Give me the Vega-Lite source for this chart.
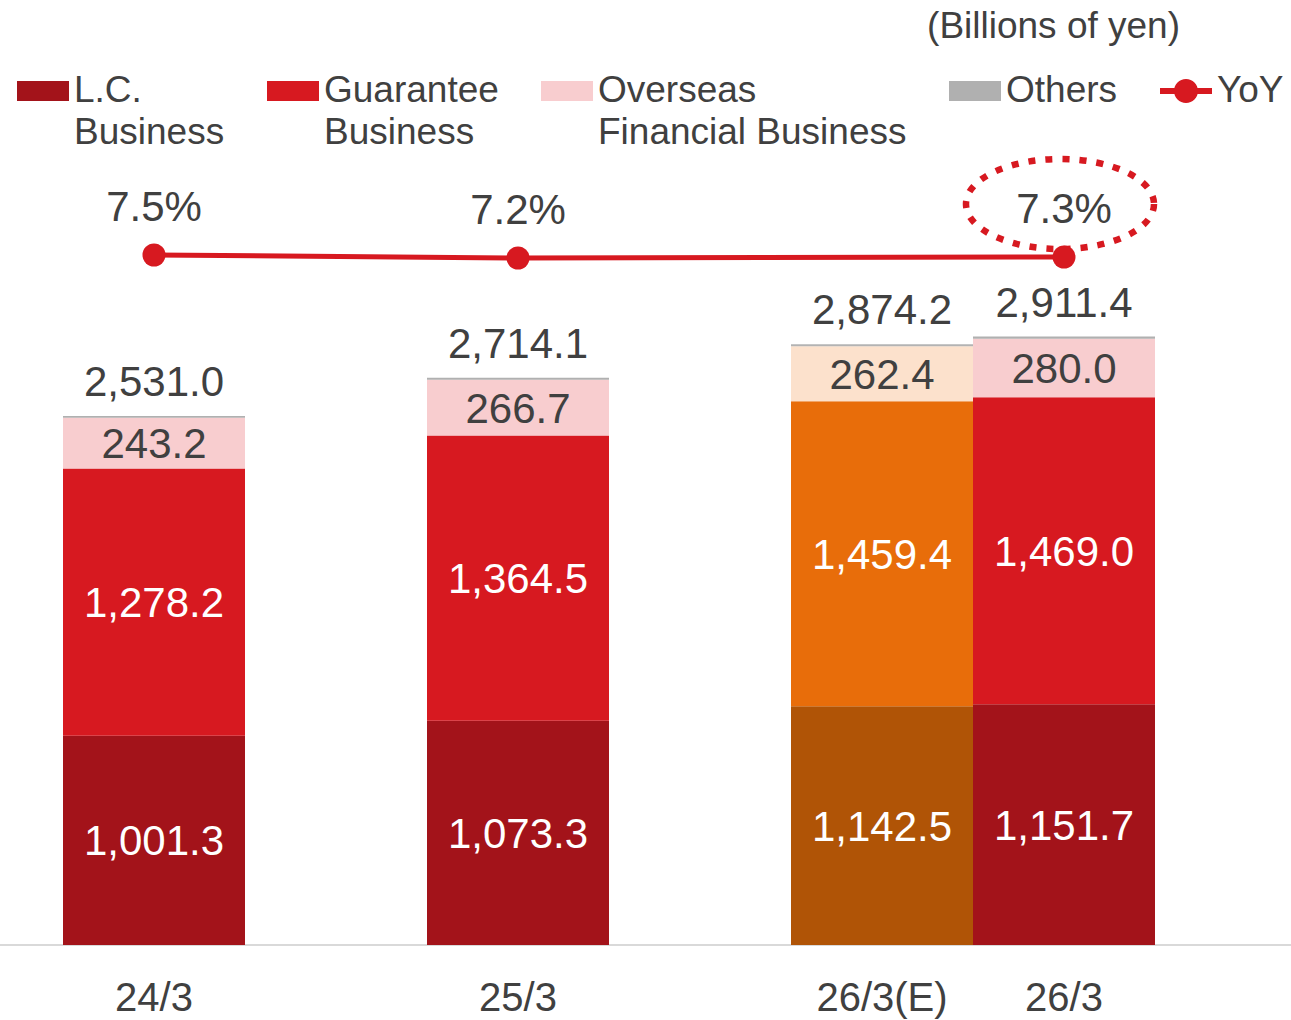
{
  "$schema": "https://vega.github.io/schema/vega-lite/v6.json",
  "width": 1291,
  "height": 785,
  "autosize": {"type": "none"},
  "padding": {"left": 0, "top": 160, "right": 0, "bottom": 75},
  "background": "white",
  "config": {"view": {"stroke": null}, "font": "Liberation Sans"},
  "title": {
    "text": "(Billions of yen)",
    "anchor": "end",
    "frame": "group",
    "orient": "top",
    "baseline": "alphabetic",
    "offset": 0,
    "dx": -111,
    "dy": 10,
    "fontSize": 37,
    "font": "Liberation Sans",
    "fontWeight": "normal",
    "color": "#404040"
  },
  "datasets": {
    "segments": [
      {"period": "24/3", "segment": "L.C. Business", "value": 1001.3},
      {"period": "24/3", "segment": "Guarantee Business", "value": 1278.2},
      {"period": "24/3", "segment": "Overseas Financial Business", "value": 243.2},
      {"period": "24/3", "segment": "Others", "value": 8.3},
      {"period": "25/3", "segment": "L.C. Business", "value": 1073.3},
      {"period": "25/3", "segment": "Guarantee Business", "value": 1364.5},
      {"period": "25/3", "segment": "Overseas Financial Business", "value": 266.7},
      {"period": "25/3", "segment": "Others", "value": 9.6},
      {"period": "26/3(E)", "segment": "L.C. Business", "value": 1142.5},
      {"period": "26/3(E)", "segment": "Guarantee Business", "value": 1459.4},
      {"period": "26/3(E)", "segment": "Overseas Financial Business", "value": 262.4},
      {"period": "26/3(E)", "segment": "Others", "value": 9.9},
      {"period": "26/3", "segment": "L.C. Business", "value": 1151.7},
      {"period": "26/3", "segment": "Guarantee Business", "value": 1469.0},
      {"period": "26/3", "segment": "Overseas Financial Business", "value": 280.0},
      {"period": "26/3", "segment": "Others", "value": 10.7}
    ],
    "yoy": [
      {"period": "24/3", "yoy": 0.075},
      {"period": "25/3", "yoy": 0.072},
      {"period": "26/3", "yoy": 0.073}
    ]
  },
  "encoding": {
    "x": {
      "field": "period",
      "type": "ordinal",
      "title": null,
      "scale": {
        "domain": ["24/3", "g1", "25/3", "g2", "26/3(E)", "26/3"],
        "range": [63, 1155],
        "paddingInner": 0,
        "paddingOuter": 0
      },
      "axis": {
        "domain": false,
        "ticks": false,
        "tickSize": 0,
        "grid": false,
        "labelAngle": 0,
        "labelFont": "Liberation Sans",
        "labelFontSize": 40,
        "labelColor": "#404040",
        "labelBaseline": "alphabetic",
        "labelPadding": 65,
        "labelExpr": "datum.value === 'g1' || datum.value === 'g2' ? '' : datum.label"
      }
    }
  },
  "layer": [
    {
      "data": {"name": "segments"},
      "transform": [
        {"calculate": "datum.period === '26/3(E)' ? datum.segment + ' (E)' : datum.segment", "as": "key"},
        {"calculate": "indexof(['L.C. Business','Guarantee Business','Overseas Financial Business','Others'], datum.segment)", "as": "ord"},
        {"stack": "value", "groupby": ["period"], "sort": [{"field": "ord", "order": "ascending"}], "as": ["v0", "v1"]},
        {"calculate": "(datum.v0 + datum.v1) / 2", "as": "mid"}
      ],
      "layer": [
        {
          "data": {"values": [{}]},
          "mark": {"type": "rule", "color": "#D9D9D9", "strokeWidth": 2},
          "encoding": {
            "x": null,
            "y": {"datum": 0, "type": "quantitative", "scale": {"domain": [0, 3756], "nice": false, "zero": true}, "axis": null}
          }
        },
        {
          "mark": {"type": "bar"},
          "encoding": {
            "y": {"field": "v0", "type": "quantitative", "scale": {"domain": [0, 3756], "nice": false}, "axis": null},
            "y2": {"field": "v1"},
            "color": {
              "field": "key",
              "type": "nominal",
              "scale": {
                "domain": ["L.C. Business", "Guarantee Business", "Overseas Financial Business", "Others", "YoY", "L.C. Business (E)", "Guarantee Business (E)", "Overseas Financial Business (E)", "Others (E)"],
                "range": ["#A3131A", "#D71920", "#F8CDCF", "#B0B0B0", "#D71920", "#B05406", "#E86D0A", "#FCE1CC", "#B3B3B3"]
              },
              "legend": {
                "orient": "none",
                "legendX": 17,
                "legendY": -95,
                "direction": "horizontal",
                "title": null,
                "padding": 0,
                "values": ["L.C. Business", "Guarantee Business", "Overseas Financial Business", "Others", "YoY"],
                "labelFont": "Liberation Sans",
                "labelFontSize": 37,
                "labelColor": "#404040",
                "labelLimit": 0,
                "labelOffset": 5,
                "columnPadding": 42,
                "symbolSize": 2704,
                "symbolStrokeWidth": 0,
                "labelExpr": "datum.value === 'L.C. Business' ? ['L.C.', 'Business'] : datum.value === 'Guarantee Business' ? ['Guarantee', 'Business'] : datum.value === 'Overseas Financial Business' ? ['Overseas', 'Financial Business'] : [datum.label, '']",
                "encode": {
                  "symbols": {
                    "update": {
                      "shape": {"signal": "datum.value === 'YoY' ? 'M-1,-0.115H1V0.115H-1Z M0.46,0A0.46,0.46 0 1 1 -0.46,0A0.46,0.46 0 1 1 0.46,0Z' : 'M-1,-0.38H1V0.38H-1Z'"},
                      "fill": {"scale": "color", "field": "value"},
                      "stroke": {"value": "transparent"},
                      "opacity": {"value": 1}
                    }
                  },
                  "labels": {
                    "update": {
                      "dy": {"value": 0},
                      "lineHeight": {"value": 42}
                    }
                  }
                }
              }
            }
          }
        },
        {
          "transform": [{"filter": "datum.segment !== 'Others'"}],
          "mark": {"type": "text", "font": "Liberation Sans", "fontSize": 42, "baseline": "alphabetic", "dy": 15},
          "encoding": {
            "y": {"field": "mid", "type": "quantitative"},
            "text": {"field": "value", "type": "quantitative", "format": ",.1f"},
            "color": {
              "condition": {"test": "datum.segment === 'Overseas Financial Business'", "value": "#404040"},
              "value": "#FFFFFF"
            }
          }
        },
        {
          "transform": [{"aggregate": [{"op": "sum", "field": "value", "as": "total"}], "groupby": ["period"]}],
          "mark": {"type": "text", "font": "Liberation Sans", "fontSize": 42, "baseline": "alphabetic", "dy": -20, "color": "#404040"},
          "encoding": {
            "y": {"field": "total", "type": "quantitative"},
            "text": {"field": "total", "type": "quantitative", "format": ",.1f"}
          }
        }
      ]
    },
    {
      "data": {"name": "yoy"},
      "encoding": {
        "y": {"field": "yoy", "type": "quantitative", "scale": {"domain": [-0.615, 0.17], "nice": false, "zero": false}, "axis": null}
      },
      "layer": [
        {
          "mark": {"type": "line", "strokeWidth": 5},
          "encoding": {"color": {"datum": "YoY", "type": "nominal"}}
        },
        {
          "transform": [{"filter": "datum.period === '26/3'"}],
          "mark": {
            "type": "point",
            "shape": "M0.9,-0.53A0.94,0.45 0 1 1 -0.98,-0.53A0.94,0.45 0 1 1 0.9,-0.53Z",
            "size": 40000,
            "filled": false,
            "fill": "transparent",
            "stroke": "#D71920",
            "strokeWidth": 6.5,
            "strokeDash": [7, 10],
            "opacity": 1
          },
          "encoding": {}
        },
        {
          "mark": {"type": "point", "filled": true, "size": 531, "opacity": 1},
          "encoding": {"color": {"datum": "YoY", "type": "nominal"}}
        },
        {
          "mark": {"type": "text", "font": "Liberation Sans", "fontSize": 42, "baseline": "alphabetic", "dy": -34, "color": "#404040"},
          "encoding": {
            "text": {"field": "yoy", "type": "quantitative", "format": ".1%"}
          }
        }
      ]
    }
  ],
  "resolve": {"scale": {"y": "independent"}}
}
